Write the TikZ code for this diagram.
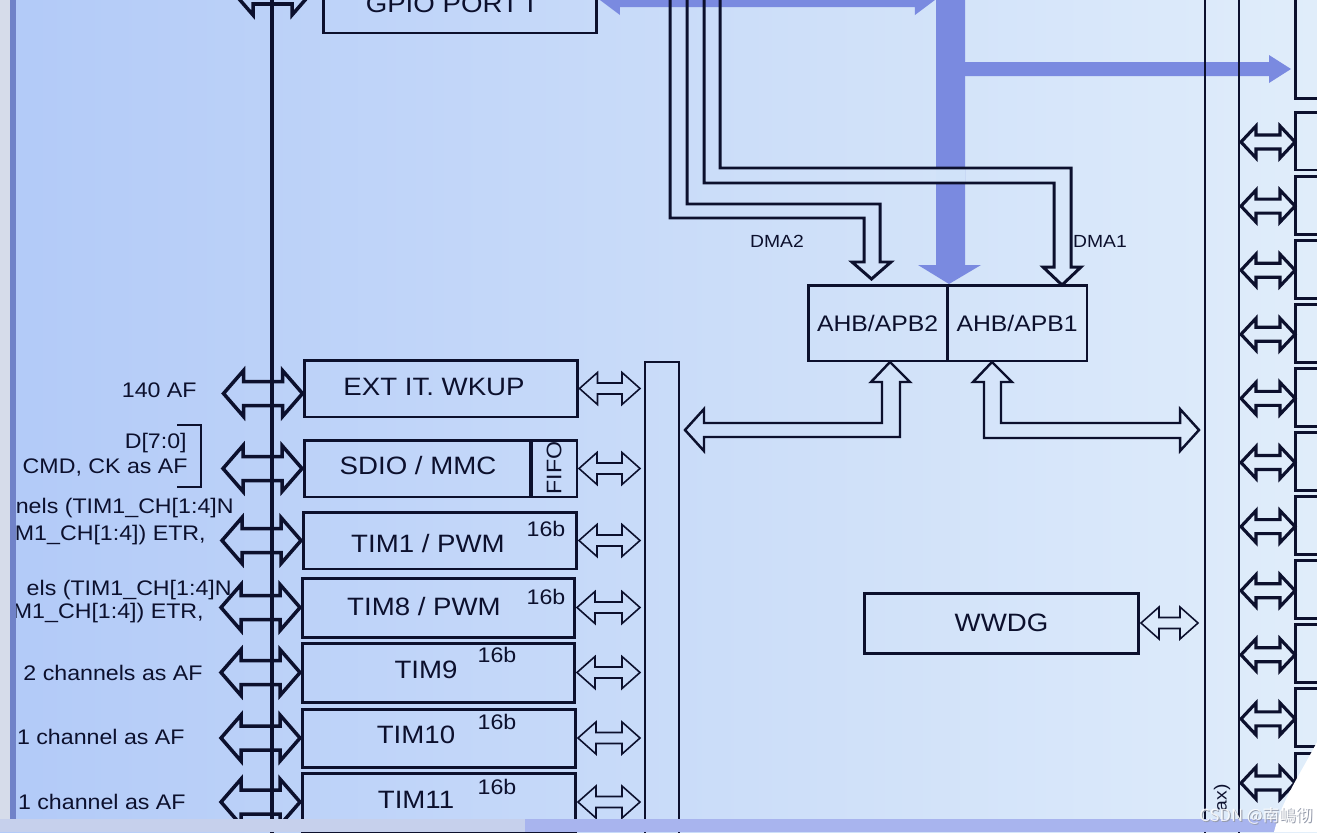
\documentclass[tikz,border=0pt]{standalone}
\usepackage{fontspec}
\setmainfont{Liberation Sans}[FakeStretch=1.1]
\newfontfamily\cjk{Noto Sans CJK SC}
\usetikzlibrary{calc}
\definecolor{ink}{RGB}{12,16,45}
\definecolor{busblue}{RGB}{122,138,224}
\definecolor{bgleft}{RGB}{178,202,248}
\definecolor{bgright}{RGB}{224,237,250}
\definecolor{bgmid}{RGB}{208,226,249}
\definecolor{barleft}{RGB}{198,208,236}
\definecolor{barright}{RGB}{168,180,238}
\definecolor{edgeblue}{RGB}{112,130,200}
\definecolor{stripgray}{RGB}{214,220,234}
\definecolor{wmgray}{RGB}{150,156,172}
\newcommand{\bxfont}{\fontsize{14.3}{16}\selectfont}
\newcommand{\apfont}{\fontsize{12.8}{15}\selectfont}
\newcommand{\sdfont}{\fontsize{12}{14}\selectfont}
\newcommand{\dmfont}{\fontsize{10}{12}\selectfont}
% hollow two-headed block arrow: style, from, to, head length, head half, stem half
\newcommand{\biarrow}[6]{%
  \draw[#1] let \p1=(#2), \p2=(#3) in
    (\x1,\y1) -- ([shift={(#4,-#5)}]\x1,\y1) -- ([shift={(#4,-#6)}]\x1,\y1)
    -- ([shift={(-#4,-#6)}]\x2,\y1) -- ([shift={(-#4,-#5)}]\x2,\y1) -- (\x2,\y1)
    -- ([shift={(-#4,#5)}]\x2,\y1) -- ([shift={(-#4,#6)}]\x2,\y1)
    -- ([shift={(#4,#6)}]\x1,\y1) -- ([shift={(#4,#5)}]\x1,\y1) -- cycle;}

\begin{document}
\begin{tikzpicture}[x=0.02cm, y=-0.02cm,
    blk/.style={draw=ink, line width=1.7pt, inner sep=0pt, outer sep=0pt},
    txt/.style={text=ink, inner sep=0pt, font=\bxfont},
    lbl/.style={text=ink, inner sep=0pt, anchor=east, font=\sdfont},
    tag/.style={text=ink, inner sep=0pt, font=\sdfont},
    bus/.style={draw=ink, line width=1.1pt, inner sep=0pt, outer sep=0pt},
    afline/.style={draw=ink, line width=2.3pt},
    bigarr/.style={draw=ink, line width=2pt},
    rarr/.style={draw=ink, line width=1.8pt},
    smallarr/.style={draw=ink, line width=0.9pt},
    hollow/.style={draw=ink, line width=1.6pt},
    busarr/.style={fill=busblue, draw=none}
]
    \useasboundingbox (0,0) rectangle (1317,832);
    \clip (0,0) rectangle (1317,832);
    \shade[left color=bgleft, right color=bgright] (0,0) rectangle (1317,832);

    % blue AHB buses
    \fill[busarr] (936,-30) -- (936,265) -- (918,265) -- (949,284) -- (981,265) -- (965,265) -- (965,-30) -- cycle;
    \fill[busarr] (965,62) -- (1269,62) -- (1269,55) -- (1291,69) -- (1269,83) -- (1269,76) -- (965,76) -- cycle;
    \fill[bgmid] (936,169) rectangle (965,182);

    \node[blk, minimum width=5.48cm, minimum height=1.2cm] (gpio) at (460,3) {};
    \node[txt] (gpio-t) at (450,4) {GPIO PORT I};
    \biarrow{busarr}{$(gpio.east)+(3,-3)$}{$(gpio.east)+(338,-3)$}{20}{15}{7}

    \node[blk, minimum width=2.78cm, minimum height=1.52cm, text=ink, font=\apfont] (apb2) at (877.5,323) {AHB/APB2};
    \node[blk, minimum width=2.8cm, minimum height=1.52cm, text=ink, font=\apfont] (apb1) at (1017,323) {AHB/APB1};

    \node[bus, minimum width=0.68cm, minimum height=9.96cm] (apb2bus) at (662,611) {};
    \node[bus, minimum width=0.68cm, minimum height=17.6cm] (apb1bus) at (1222,420) {};

    \coordinate (dma2tip) at (871.5,279);
    \coordinate (dma1tip) at (1062,285);
    \draw[hollow, line width=1.7pt] (670,-20) -- (670,218) -- (864,218) -- (864,262) -- (852,262) -- (dma2tip)
        -- (891,262) -- (880,262) -- (880,204) -- (687,204) -- (687,-20);
    \draw[hollow, line width=1.7pt] (704,-20) -- (704,183) -- (1054,183) -- (1054,267) -- (1043,267) -- (dma1tip)
        -- (1081,267) -- (1071,267) -- (1071,168) -- (720,168) -- (720,-20);
    \node[text=ink, inner sep=0pt, font=\dmfont] (dma2) at (777,241) {DMA2};
    \node[text=ink, inner sep=0pt, font=\dmfont] (dma1) at (1100,241) {DMA1};

    \draw[hollow, line width=1.4pt] (890,362) -- (910,382) -- (900,382) -- (900,437) -- (704,437) -- (704,451) -- (685,430)
        -- (704,409) -- (704,423) -- (882,423) -- (882,382) -- (871,382) -- cycle;
    \draw[hollow, line width=1.4pt] (992,362) -- (1012,382) -- (1001,382) -- (1001,423) -- (1180,423) -- (1180,409) -- (1199,430)
        -- (1180,451) -- (1180,438) -- (984,438) -- (984,382) -- (973,382) -- cycle;

    \node[blk, minimum width=5.5cm, minimum height=1.2cm, text=ink, font=\bxfont] (wwdg) at (1001.5,623) {WWDG};
    \biarrow{smallarr}{$(wwdg.east)+(2,0)$}{$(wwdg.east -| apb1bus.west)+(-7,0)$}{18}{16}{5.5}

    % APB2 peripherals
    \node[blk, minimum width=5.46cm, minimum height=1.14cm] (ext) at (441,388.5) {};
    \node[blk, minimum width=4.54cm, minimum height=1.14cm] (sdio) at (417.5,468.5) {};
    \node[blk, minimum width=0.92cm, minimum height=1.14cm] (fifo) at (554,468.5) {};
    \node[blk, minimum width=5.48cm, minimum height=1.14cm] (tim1) at (440,540.5) {};
    \node[blk, minimum width=5.46cm, minimum height=1.18cm] (tim8) at (438.5,607.5) {};
    \node[blk, minimum width=5.46cm, minimum height=1.18cm] (tim9) at (438.5,672.5) {};
    \node[blk, minimum width=5.48cm, minimum height=1.16cm] (tim10) at (439,738) {};
    \node[blk, minimum width=5.48cm, minimum height=1.16cm] (tim11) at (439,802) {};

    \node[txt] (ext-t) at (434,387) {EXT IT. WKUP};
    \node[txt] (sdio-t) at (418,466) {SDIO / MMC};
    \node[tag, rotate=90] (fifo-t) at (554,468) {FIFO};
    \node[txt] (tim1-t) at (428,544) {TIM1 / PWM};
    \node[txt] (tim8-t) at (424,607) {TIM8 / PWM};
    \node[txt] (tim9-t) at (426,670) {TIM9};
    \node[txt] (tim10-t) at (416,735) {TIM10};
    \node[txt] (tim11-t) at (416,800) {TIM11};
    \node[tag] (tim1-b) at (546,529) {16b};
    \node[tag] (tim8-b) at (546,597) {16b};
    \node[tag] (tim9-b) at (497,655) {16b};
    \node[tag] (tim10-b) at (497,722) {16b};
    \node[tag] (tim11-b) at (497,787) {16b};

    \foreach \blkname in {ext,fifo,tim1,tim8,tim9,tim10,tim11} {
        \biarrow{smallarr}{$(\blkname.east)+(2,0)$}{$(\blkname.east -| apb2bus.west)+(-5,0)$}{18}{16}{5.5}
    }

    % AF lines
    \coordinate (aftop) at (272,-30);
    \coordinate (afbot) at (272,840);
    \draw[afline] (aftop) -- (afbot);
    \biarrow{bigarr}{$(gpio.west)+(-90,-11)$}{$(gpio.west)+(-11,-11)$}{20}{23}{12}
    \biarrow{bigarr}{$(ext.west)+(-81,5)$}{$(ext.west)+(-2,5)$}{20}{23}{12}
    \foreach \blkname in {sdio,tim1,tim8,tim9,tim10,tim11} {
        \biarrow{bigarr}{$(\blkname.west)+(-81,0)$}{$(\blkname.west)+(-2,0)$}{20}{23}{12}
    }

    \node[lbl] (af-ext) at (197,390) {140 AF};
    \node[lbl] (af-sd1) at (187,443) {D[7:0]};
    \node[lbl] (af-sd2) at (188,467) {CMD, CK as AF};
    \draw[ink, line width=1pt] (177,425) -- (201,425) -- (201,487) -- (177,487);
    \node[lbl] (af-t1a) at (234,508) {nels (TIM1\_CH[1:4]N};
    \node[lbl] (af-t1b) at (206,535) {M1\_CH[1:4]) ETR,};
    \node[lbl] (af-t8a) at (232,590) {els (TIM1\_CH[1:4]N};
    \node[lbl] (af-t8b) at (204,613) {M1\_CH[1:4]) ETR,};
    \node[lbl] (af-t9) at (203,673) {2 channels as AF};
    \node[lbl] (af-t10) at (185,737) {1 channel as AF};
    \node[lbl] (af-t11) at (186,802) {1 channel as AF};

    % APB1 side
    \node[blk, minimum width=1cm, minimum height=2.2cm] (rb0) at (1320,44) {};
    \foreach \k in {1,...,11} {
        \node[blk, minimum width=1cm, minimum height=1.16cm] (rb\k) at (1320,{141+64.1*(\k-1)}) {};
        \biarrow{rarr}{$(rb\k.west -| apb1bus.east)+(2,1)$}{rb\k.west}{15}{16}{7}
    }
    \node[text=ink, inner sep=0pt, rotate=90, anchor=east, font=\dmfont] (apb1-max) at (1222,784) {ax)};

    % screen edges
    \fill[stripgray] (0,0) rectangle (10,819);
    \fill[edgeblue] (10,0) rectangle (16,819);
    \fill[barleft] (0,819) rectangle (525,832);
    \fill[barright] (525,819) rectangle (1317,832);
    \fill[white] (1317,742) .. controls (1298,778) and (1282,800) .. (1274,832) -- (1317,832) -- cycle;
    \node[text=wmgray, inner sep=0pt, font={\cjk\fontsize{9.5}{11}\selectfont}] (wm-s) at (1257,817) {CSDN @南嶋彻};
    \node[text=white, opacity=0.85, inner sep=0pt, font={\cjk\fontsize{9.5}{11}\selectfont}] (wm) at (1256,816) {CSDN @南嶋彻};
\end{tikzpicture}
\end{document}
